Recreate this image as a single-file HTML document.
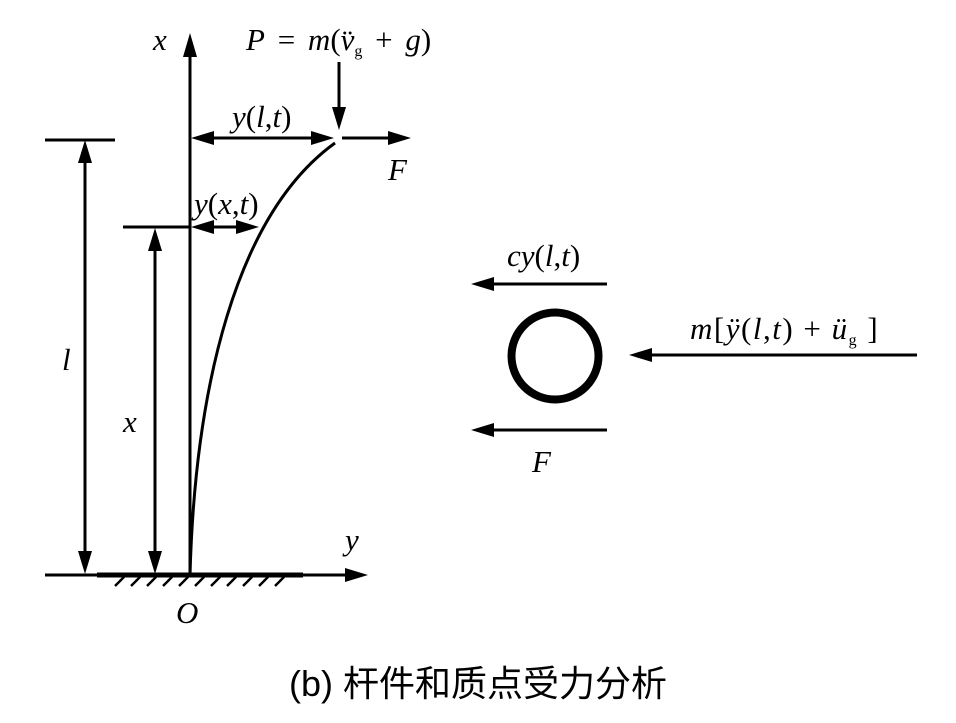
<!DOCTYPE html>
<html><head><meta charset="utf-8"><style>
html,body{margin:0;padding:0;background:#fff}
svg{display:block}
text{font-family:"Liberation Serif",serif;font-size:31px;fill:#000}
.i{font-style:italic}
</style></head><body>
<svg width="956" height="723" viewBox="0 0 956 723" xmlns="http://www.w3.org/2000/svg">
<g stroke="#000" stroke-width="3" fill="none">
<line x1="190" y1="575" x2="190" y2="50"/>
<line x1="45" y1="575" x2="350" y2="575"/>
<line x1="97" y1="575" x2="303" y2="575" stroke-width="5"/>
<line x1="45" y1="140" x2="115" y2="140"/>
<line x1="123" y1="227" x2="190" y2="227"/>
<line x1="85" y1="158" x2="85" y2="557"/>
<line x1="155" y1="245" x2="155" y2="557"/>
<line x1="207" y1="138" x2="318" y2="138"/>
<line x1="342" y1="138" x2="395" y2="138"/>
<line x1="339" y1="62" x2="339" y2="112"/>
<line x1="207" y1="227" x2="243" y2="227"/>
<path d="M190,575 C195,390 235,215 335,143"/>
<line x1="490" y1="284" x2="607" y2="284"/>
<line x1="490" y1="430" x2="607" y2="430"/>
<line x1="648" y1="355" x2="917" y2="355"/>
<circle cx="555" cy="356" r="43.5" stroke-width="8"/>
<g stroke-width="2.5">
<line x1="115" y1="586" x2="124" y2="577"/><line x1="131" y1="586" x2="140" y2="577"/><line x1="147" y1="586" x2="156" y2="577"/><line x1="163" y1="586" x2="172" y2="577"/><line x1="179" y1="586" x2="188" y2="577"/><line x1="195" y1="586" x2="204" y2="577"/><line x1="211" y1="586" x2="220" y2="577"/><line x1="227" y1="586" x2="236" y2="577"/><line x1="243" y1="586" x2="252" y2="577"/><line x1="259" y1="586" x2="268" y2="577"/><line x1="275" y1="586" x2="284" y2="577"/>
</g>
</g>
<g fill="#000">
<polygon points="190,33 183,57 197,57"/>
<polygon points="368,575 345,568 345,582"/>
<polygon points="85,140 78,163 92,163"/>
<polygon points="85,574 78,551 92,551"/>
<polygon points="155,228 148,251 162,251"/>
<polygon points="155,574 148,551 162,551"/>
<polygon points="191,138 214,131 214,145"/>
<polygon points="334,138 311,131 311,145"/>
<polygon points="411,138 388,131 388,145"/>
<polygon points="339,130 332,107 346,107"/>
<polygon points="191,227 214,220 214,234"/>
<polygon points="259,227 236,220 236,234"/>
<polygon points="471,284 494,277 494,291"/>
<polygon points="471,430 494,423 494,437"/>
<polygon points="629,355 652,348 652,362"/>
</g>
<text x="153" y="50" class="i">x</text>
<text x="246" y="50" word-spacing="5"><tspan class="i">P</tspan> = <tspan class="i">m</tspan>(<tspan class="i">v̈</tspan><tspan font-size="16" dy="6">g</tspan><tspan dy="-6"> + </tspan><tspan class="i">g</tspan>)</text>
<text x="232" y="127"><tspan class="i">y</tspan>(<tspan class="i">l</tspan>,<tspan class="i">t</tspan>)</text>
<text x="388" y="180" class="i">F</text>
<text x="194" y="214"><tspan class="i">y</tspan>(<tspan class="i">x</tspan>,<tspan class="i">t</tspan>)</text>
<text x="62" y="370" class="i">l</text>
<text x="123" y="432" class="i">x</text>
<text x="345" y="550" class="i">y</text>
<text x="176" y="623" class="i">O</text>
<text x="507" y="266"><tspan class="i">cy</tspan>(<tspan class="i">l</tspan>,<tspan class="i">t</tspan>)</text>
<text x="532" y="472" class="i">F</text>
<text x="690" y="339" letter-spacing="1.5"><tspan class="i">m</tspan>[<tspan class="i">ÿ</tspan>(<tspan class="i">l</tspan>,<tspan class="i">t</tspan>) + <tspan class="i">ü</tspan><tspan font-size="16" dy="6">g</tspan><tspan dy="-6"> ]</tspan></text>
<text x="478" y="696" text-anchor="middle" style="font-family:'Liberation Sans','Noto Sans CJK SC',sans-serif;font-size:36px">(b)  杆件和质点受力分析</text>
</svg>
</body></html>
